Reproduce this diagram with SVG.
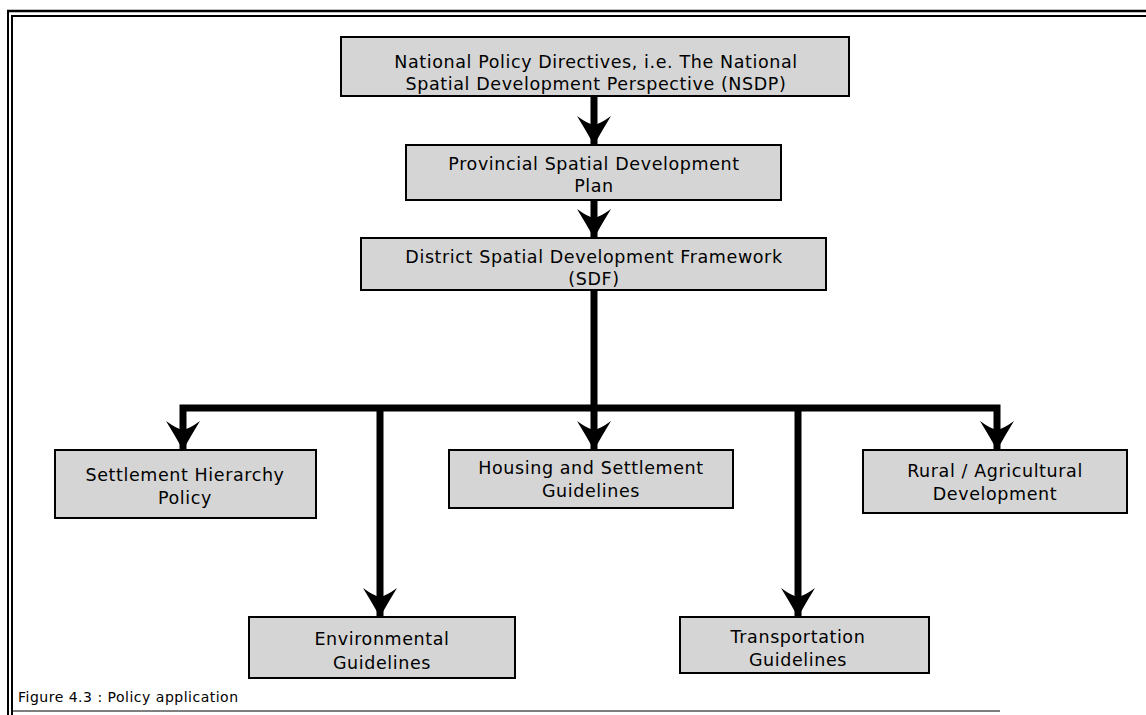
<svg xmlns="http://www.w3.org/2000/svg" width="1146" height="715" viewBox="0 0 1146 715">
<style>
.box{fill:#d5d5d5;stroke:#000;stroke-width:2}
.t{font-family:"DejaVu Sans",sans-serif;font-size:17.5px;letter-spacing:0.6px;fill:#000;text-anchor:middle}
.c{fill:none;stroke:#000;stroke-width:7;stroke-linejoin:miter}
.frame{stroke:#000;fill:none}
</style>
<defs>
<marker id="ah" markerUnits="userSpaceOnUse" viewBox="-1 -18 32 36" markerWidth="32" markerHeight="36" refX="29" refY="0" orient="auto">
<path d="M29,0 Q13,-9 0,-17 Q8,-6 9,0 Q8,6 0,17 Q13,9 29,0 Z" fill="#000"/>
</marker>
</defs>
<rect width="1146" height="715" fill="#fff"/>
<g id="frame">
<line class="frame" x1="7" y1="11" x2="1146" y2="11" stroke-width="2.5"/>
<line class="frame" x1="12" y1="16" x2="1146" y2="16" stroke-width="2"/>
<line class="frame" x1="8" y1="10" x2="8" y2="715" stroke-width="2"/>
<line class="frame" x1="12" y1="15" x2="12" y2="715" stroke-width="2"/>
<line class="frame" x1="12" y1="711" x2="1000" y2="711" stroke="#777" stroke-width="1"/>
</g>
<g id="connectors">
<path class="c" d="M594,96 V145" marker-end="url(#ah)"/>
<path class="c" d="M594,200 V238" marker-end="url(#ah)"/>
<path class="c" d="M594,290 V450" marker-end="url(#ah)"/>
<path class="c" d="M594,408 H183 V450" marker-end="url(#ah)"/>
<path class="c" d="M594,408 H997 V450" marker-end="url(#ah)"/>
<path class="c" d="M380,408 V617" marker-end="url(#ah)"/>
<path class="c" d="M798,408 V617" marker-end="url(#ah)"/>
</g>
<g id="n1">
<rect class="box" x="341" y="37" width="508" height="59"/>
<text class="t" x="596" y="68">National Policy Directives, i.e. The National</text>
<text class="t" x="596" y="90">Spatial Development Perspective (NSDP)</text>
</g>
<g id="n2">
<rect class="box" x="406" y="145" width="375" height="55"/>
<text class="t" x="594" y="170">Provincial Spatial Development</text>
<text class="t" x="594" y="192">Plan</text>
</g>
<g id="n3">
<rect class="box" x="361" y="238" width="465" height="52"/>
<text class="t" x="594" y="263">District Spatial Development Framework</text>
<text class="t" x="594" y="285">(SDF)</text>
</g>
<g id="n4">
<rect class="box" x="55" y="450" width="261" height="68"/>
<text class="t" x="185" y="481">Settlement Hierarchy</text>
<text class="t" x="185" y="504">Policy</text>
</g>
<g id="n5">
<rect class="box" x="449" y="450" width="284" height="58"/>
<text class="t" x="591" y="474">Housing and Settlement</text>
<text class="t" x="591" y="497">Guidelines</text>
</g>
<g id="n6">
<rect class="box" x="863" y="450" width="264" height="63"/>
<text class="t" x="995" y="477">Rural / Agricultural</text>
<text class="t" x="995" y="500">Development</text>
</g>
<g id="n7">
<rect class="box" x="249" y="617" width="266" height="61"/>
<text class="t" x="382" y="645">Environmental</text>
<text class="t" x="382" y="669">Guidelines</text>
</g>
<g id="n8">
<rect class="box" x="680" y="617" width="249" height="56"/>
<text class="t" x="798" y="643">Transportation</text>
<text class="t" x="798" y="666">Guidelines</text>
</g>
<text x="18" y="702" font-family="DejaVu Sans, sans-serif" font-size="14" letter-spacing="0.5" fill="#000">Figure 4.3 : Policy application</text>
</svg>
